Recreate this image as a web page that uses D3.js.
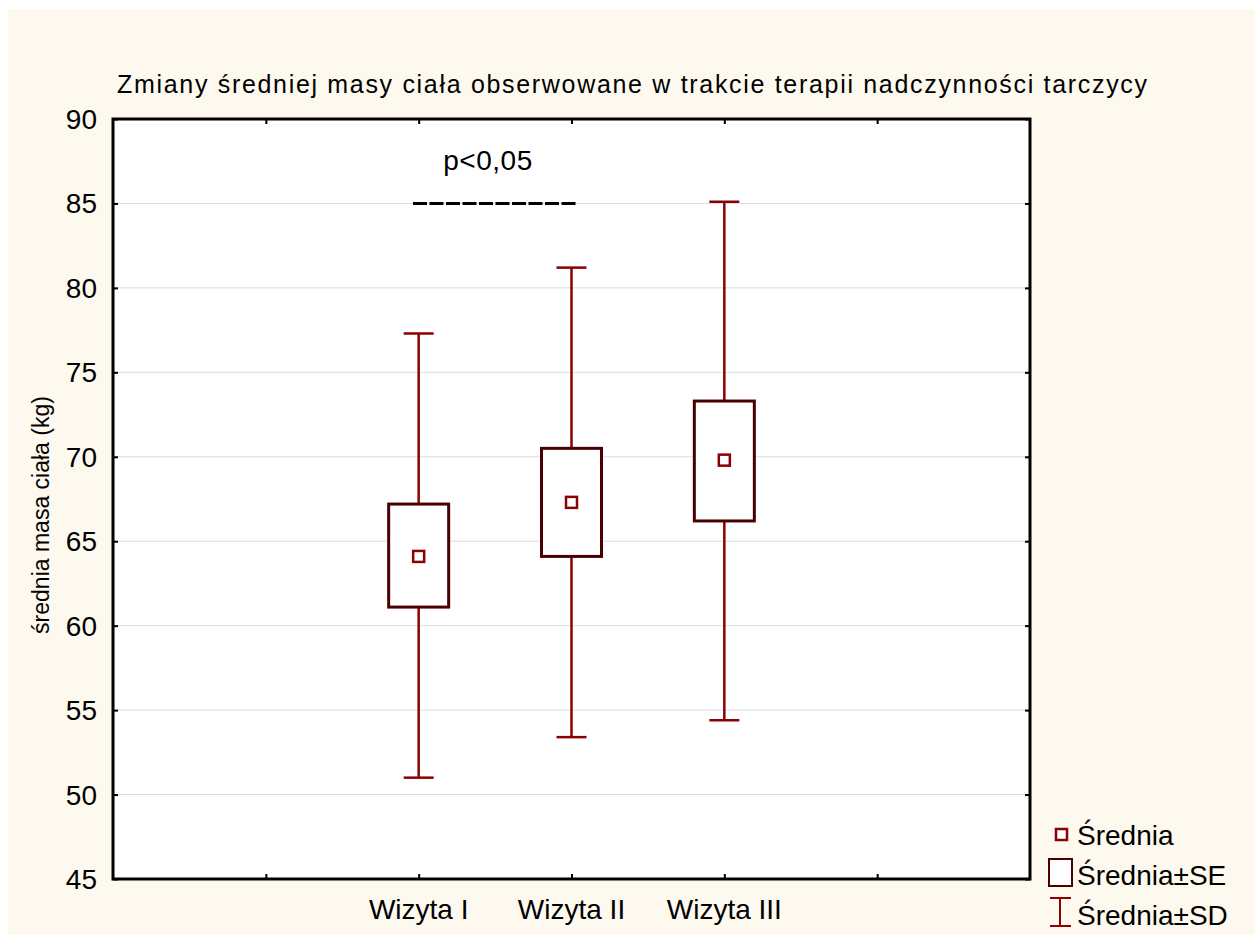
<!DOCTYPE html>
<html lang="pl">
<head>
<meta charset="UTF-8">
<title>Zmiany średniej masy ciała</title>
<script src="https://d3js.org/d3.v7.min.js"></script>
<style>
  body { margin: 0; background: #ffffff; }
  text { font-family: "Liberation Sans", Arial, sans-serif; fill: #000; }
</style>
</head>
<body>
<div id="chart"></div>
<script>

// data
const visits = ["Wizyta I", "Wizyta II", "Wizyta III"];
const means  = [64.1, 67.3, 69.8];
const seLow  = [61.1, 64.1, 66.2];
const seHigh = [67.2, 70.5, 73.3];
const sdLow  = [51.0, 53.4, 54.4];
const sdHigh = [77.3, 81.2, 85.1];
const yTicks = [45, 50, 55, 60, 65, 70, 75, 80, 85, 90];
const legendLabels = ["Średnia", "Średnia±SE", "Średnia±SD"];

const width = 1255, height = 935;
const margin = { left: 113, right: 225, top: 119, bottom: 56 };

const svg = d3.select("#chart").append("svg")
  .attr("width", width)
  .attr("height", height);

// cream background with a thin white strip at top/left
svg.append("rect")
  .attr("x", 8).attr("y", 9)
  .attr("width", width - 8).attr("height", height - 9)
  .attr("fill", "#fdf9ef");

const x = d3.scaleLinear().domain([0, 6]).range([margin.left, width - margin.right]);
const y = d3.scaleLinear().domain([45, 90]).range([height - margin.bottom, margin.top]);

// plot area
svg.append("rect")
  .attr("x", x(0)).attr("y", y(90))
  .attr("width", x(6) - x(0)).attr("height", y(45) - y(90))
  .attr("fill", "#ffffff");

// grid
svg.append("g").selectAll("line")
  .data(yTicks.slice(1, -1))
  .join("line")
  .attr("x1", x(0)).attr("x2", x(6))
  .attr("y1", d => y(d)).attr("y2", d => y(d))
  .attr("stroke", "#dcdcdc").attr("stroke-width", 1);

// axes: ticks inward
const axisStyle = g => {
  g.select(".domain").remove();
  g.selectAll("line").attr("stroke", "#000").attr("stroke-width", 2);
};
svg.append("g")
  .attr("transform", `translate(${x(0)},0)`)
  .call(d3.axisRight(y).tickValues(yTicks).tickSize(5).tickFormat(""))
  .call(axisStyle);
svg.append("g")
  .attr("transform", `translate(${x(6)},0)`)
  .call(d3.axisLeft(y).tickValues(yTicks).tickSize(5).tickFormat(""))
  .call(axisStyle);
svg.append("g")
  .attr("transform", `translate(0,${y(45)})`)
  .call(d3.axisTop(x).tickValues([1, 2, 3, 4, 5]).tickSize(5).tickFormat(""))
  .call(axisStyle);
svg.append("g")
  .attr("transform", `translate(0,${y(90)})`)
  .call(d3.axisBottom(x).tickValues([1, 2, 3, 4, 5]).tickSize(5).tickFormat(""))
  .call(axisStyle);

// frame
svg.append("rect")
  .attr("x", x(0)).attr("y", y(90))
  .attr("width", x(6) - x(0)).attr("height", y(45) - y(90))
  .attr("fill", "none").attr("stroke", "#000").attr("stroke-width", 3);

// y tick labels
svg.append("g").selectAll("text")
  .data(yTicks)
  .join("text")
  .attr("x", x(0) - 16)
  .attr("y", d => y(d) + 10)
  .attr("text-anchor", "end")
  .attr("font-size", 28)
  .text(d => d);

// x labels
svg.append("g").selectAll("text")
  .data(visits)
  .join("text")
  .attr("x", (d, i) => x(i + 2))
  .attr("y", 919)
  .attr("text-anchor", "middle")
  .attr("font-size", 28)
  .text(d => d);

// title
svg.append("text")
  .attr("x", 117).attr("y", 93)
  .attr("font-size", 25)
  .attr("textLength", 1030)
  .text("Zmiany średniej masy ciała obserwowane w trakcie terapii nadczynności tarczycy");

// y label
svg.append("text")
  .attr("transform", `translate(49,${(y(45) + y(90)) / 2 + 16}) rotate(-90)`)
  .attr("text-anchor", "middle")
  .attr("font-size", 23)
  .text("średnia masa ciała (kg)");

const red = "#8b0000", dark = "#4a0000";
const boxW = 60, capW = 30, mk = 11;

const groups = svg.append("g").selectAll("g")
  .data(visits)
  .join("g");

// whiskers (SD)
groups.append("line")
  .attr("x1", (d, i) => x(i + 2)).attr("x2", (d, i) => x(i + 2))
  .attr("y1", (d, i) => y(sdLow[i])).attr("y2", (d, i) => y(sdHigh[i]))
  .attr("stroke", red).attr("stroke-width", 2.5);
[sdLow, sdHigh].forEach(arr => {
  groups.append("line")
    .attr("x1", (d, i) => x(i + 2) - capW / 2).attr("x2", (d, i) => x(i + 2) + capW / 2)
    .attr("y1", (d, i) => y(arr[i])).attr("y2", (d, i) => y(arr[i]))
    .attr("stroke", red).attr("stroke-width", 2.5);
});

// SE boxes
groups.append("rect")
  .attr("x", (d, i) => x(i + 2) - boxW / 2)
  .attr("y", (d, i) => y(seHigh[i]))
  .attr("width", boxW)
  .attr("height", (d, i) => y(seLow[i]) - y(seHigh[i]))
  .attr("fill", "#ffffff").attr("stroke", dark).attr("stroke-width", 3);

// mean markers
groups.append("rect")
  .attr("x", (d, i) => x(i + 2) - mk / 2)
  .attr("y", (d, i) => y(means[i]) - mk / 2)
  .attr("width", mk).attr("height", mk)
  .attr("fill", "#ffffff").attr("stroke", red).attr("stroke-width", 2.5);

// significance annotation
svg.append("line")
  .attr("x1", 413).attr("x2", 577)
  .attr("y1", y(85)).attr("y2", y(85))
  .attr("stroke", "#000").attr("stroke-width", 3)
  .attr("stroke-dasharray", "14,2.5");
svg.append("text")
  .attr("x", 488).attr("y", 170)
  .attr("text-anchor", "middle")
  .attr("font-size", 28)
  .attr("letter-spacing", 0.5)
  .text("p<0,05");

// legend
const lg = svg.append("g");
lg.append("rect")
  .attr("x", 1056).attr("y", 829).attr("width", 11).attr("height", 11)
  .attr("fill", "#fff").attr("stroke", red).attr("stroke-width", 2.5);
lg.append("rect")
  .attr("x", 1049).attr("y", 859).attr("width", 23).attr("height", 27)
  .attr("fill", "#fff").attr("stroke", dark).attr("stroke-width", 2);
lg.append("line").attr("x1", 1060).attr("x2", 1060).attr("y1", 898).attr("y2", 926)
  .attr("stroke", red).attr("stroke-width", 2);
lg.append("line").attr("x1", 1050).attr("x2", 1071).attr("y1", 898).attr("y2", 898)
  .attr("stroke", red).attr("stroke-width", 2);
lg.append("line").attr("x1", 1050).attr("x2", 1071).attr("y1", 926).attr("y2", 926)
  .attr("stroke", red).attr("stroke-width", 2);
lg.selectAll("text")
  .data(legendLabels)
  .join("text")
  .attr("x", 1077)
  .attr("y", (d, i) => 845 + i * 40)
  .attr("font-size", 28)
  .text(d => d);

</script>
</body>
</html>
